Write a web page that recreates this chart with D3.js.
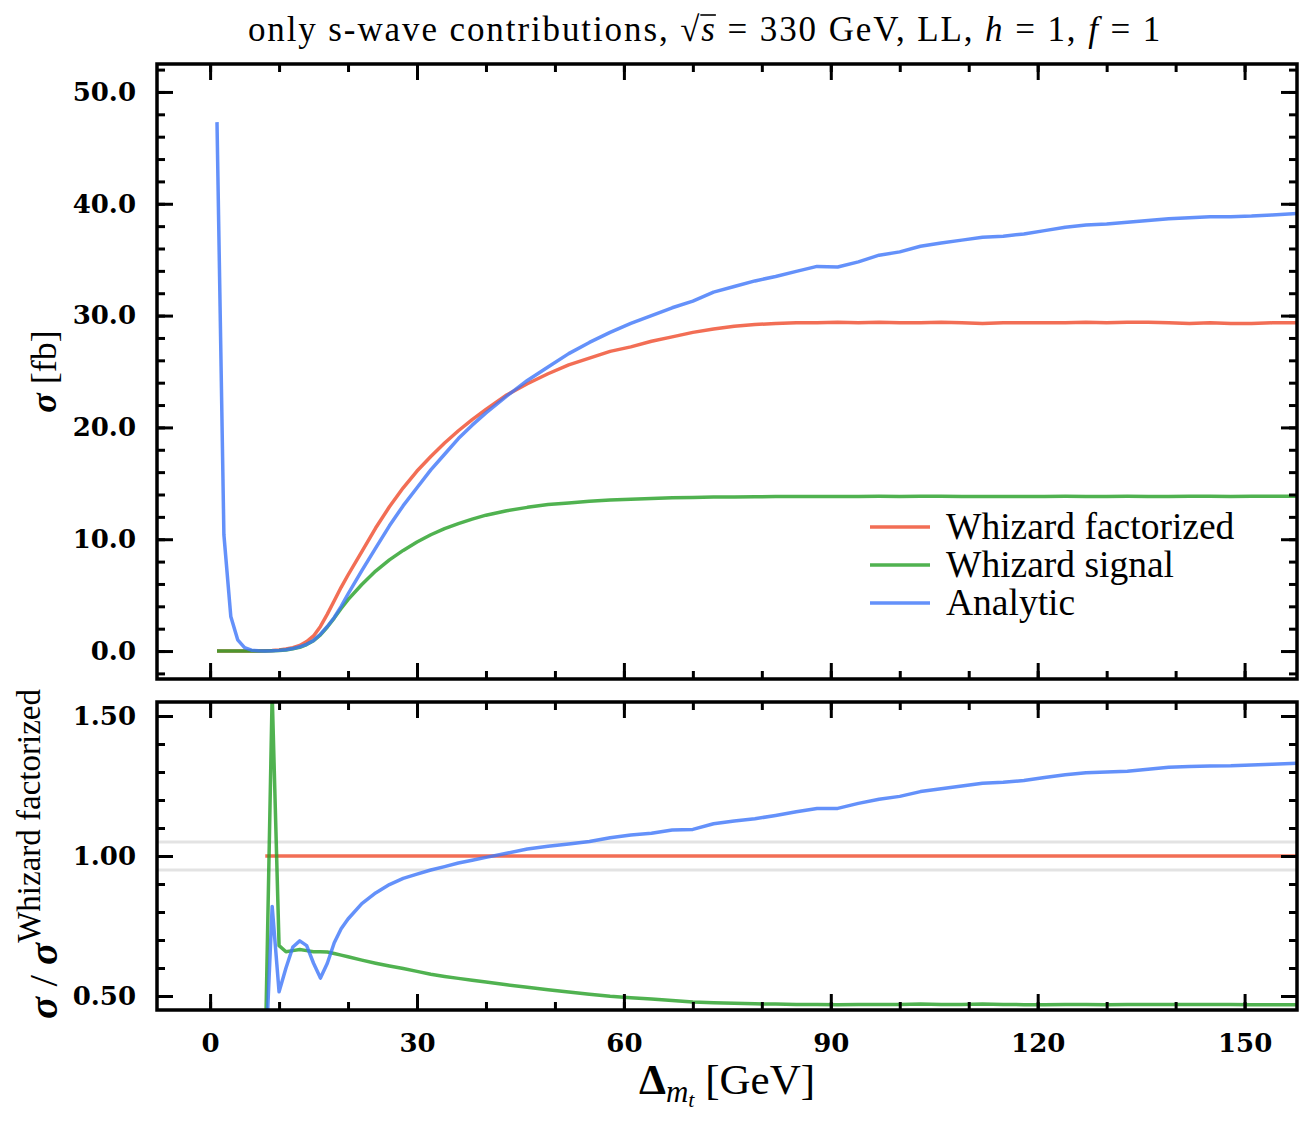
<!DOCTYPE html>
<html>
<head>
<meta charset="utf-8">
<script src="https://cdn.jsdelivr.net/npm/d3@7"></script>
<style>
  body { margin: 0; background: #fff; }
  svg { display: block; }
</style>
</head>
<body>
<div id="chart"></div>
<script>
// ---- dữ liệu ----
// trục x (GeV) cho panel trên
const xTop = [1,2,3,4,5,6,7,8,9,10,11,12,13,14,15,16,17,18,19,20,
  22,24,26,28,30,32,34,36,38,40,
  43,46,49,52,55,58,61,64,67,70,73,76,79,82,85,88,91,94,97,100,103,106,109,112,115,118,121,124,127,130,133,136,139,142,145,148,151,154,158];

const sigFactorized = [0,0,0,0,0,0,0,0.02,0.05,0.1,0.18,0.3,0.5,0.85,1.35,2.2,3.3,4.5,5.7,6.8,
  8.9,11.0,12.9,14.6,16.1,17.4,18.6,19.7,20.7,21.6,
  22.9,23.9,24.8,25.6,26.2,26.8,27.2,27.7,28.1,28.5,28.8,29.05,29.2,29.3,29.35,29.35,29.4,29.35,29.4,29.35,29.35,29.4,29.35,29.3,29.35,29.35,29.35,29.35,29.4,29.35,29.4,29.4,29.35,29.3,29.35,29.3,29.3,29.35,29.35];

const sigSignal = [0,0,0,0,0,0,0,0,0.02,0.05,0.1,0.2,0.33,0.58,0.92,1.45,2.15,2.95,3.8,4.6,
  5.95,7.15,8.15,9.0,9.75,10.4,10.95,11.4,11.8,12.15,
  12.55,12.85,13.1,13.25,13.4,13.5,13.58,13.65,13.7,13.74,13.77,13.78,13.8,13.82,13.82,13.83,13.82,13.83,13.84,13.83,13.85,13.84,13.83,13.82,13.82,13.83,13.83,13.84,13.83,13.82,13.84,13.83,13.83,13.84,13.84,13.83,13.84,13.84,13.85];

const sigAnalytic = [47.3,10.4,3.1,1.0,0.3,0.08,0.02,0.0,0.02,0.06,0.12,0.22,0.38,0.6,0.95,1.5,2.2,3.0,4.0,5.1,
  7.2,9.2,11.2,13.0,14.6,16.2,17.6,19.0,20.2,21.3,
  22.8,24.2,25.4,26.6,27.6,28.5,29.3,30.0,30.7,31.3,32.1,32.6,33.1,33.5,33.95,34.4,34.35,34.8,35.4,35.7,36.2,36.5,36.75,37.0,37.1,37.3,37.6,37.9,38.1,38.2,38.35,38.5,38.65,38.75,38.85,38.85,38.9,39.0,39.15];

// panel dưới: tỉ số so với Whizard factorized
const xRatio = [8,9,10,11,12,13,14,15,16,17,18,19,20,
  22,24,26,28,30,32,34,36,38,40,
  43,46,49,52,55,58,61,64,67,70,73,76,79,82,85,88,91,94,97,100,103,106,109,112,115,118,121,124,127,130,133,136,139,142,145,148,151,154,158];

const xRatioRef = [8, 158];
const ratioFactorized = [1.0, 1.0];

const ratioSignal = [0.3,1.58,0.68,0.658,0.662,0.666,0.662,0.658,0.658,0.657,0.652,0.646,0.64,
  0.628,0.617,0.607,0.598,0.588,0.578,0.57,0.563,0.556,0.55,
  0.54,0.531,0.522,0.514,0.506,0.499,0.494,0.489,0.484,0.479,0.476,0.474,0.472,0.471,0.47,0.47,0.469,0.47,0.47,0.47,0.471,0.47,0.47,0.471,0.47,0.469,0.469,0.47,0.47,0.469,0.47,0.47,0.47,0.47,0.47,0.47,0.469,0.469,0.469];

const ratioAnalytic = [0.25,0.82,0.515,0.6,0.675,0.697,0.68,0.617,0.564,0.617,0.69,0.74,0.775,
  0.83,0.868,0.898,0.92,0.935,0.95,0.962,0.975,0.985,0.995,
  1.01,1.025,1.035,1.043,1.052,1.065,1.075,1.081,1.093,1.095,1.115,1.125,1.133,1.145,1.158,1.17,1.17,1.188,1.203,1.213,1.23,1.24,1.25,1.26,1.263,1.27,1.28,1.29,1.297,1.3,1.303,1.31,1.317,1.32,1.321,1.322,1.325,1.328,1.332];

const bandLevels = [0.95, 1.05];

// nhãn trục
const xTickValues = [0, 30, 60, 90, 120, 150];
const yTopTickValues = [0, 10, 20, 30, 40, 50];
const yBotTickValues = [0.5, 1.0, 1.5];

const seriesNames = ["Whizard factorized", "Whizard signal", "Analytic"];
const seriesColors = ["#ef4a2a", "#249f24", "#3d76f9"];

// ---- kích thước ----
const W = 1312, H = 1128;
const left = 157, right = 1297;
const topPanel = { y0: 64, y1: 679 };
const botPanel = { y0: 702, y1: 1010 };
const serif = "'Liberation Serif', 'Times New Roman', serif";
const tickFont = "'DejaVu Serif', serif";

const svg = d3.select("#chart").append("svg")
  .attr("width", W).attr("height", H)
  .style("background", "#fff");

const x = d3.scaleLinear().domain([-7.7, 157.6]).range([left, right]);
const yTop = d3.scaleLinear().domain([-2.5, 52.5]).range([topPanel.y1, topPanel.y0]);
const yBot = d3.scaleLinear().domain([0.45, 1.55]).range([botPanel.y1, botPanel.y0]);

// vùng cắt cho từng panel
const defs = svg.append("defs");
defs.append("clipPath").attr("id", "clipTop").append("rect")
  .attr("x", left).attr("y", topPanel.y0).attr("width", right - left).attr("height", topPanel.y1 - topPanel.y0);
defs.append("clipPath").attr("id", "clipBot").append("rect")
  .attr("x", left).attr("y", botPanel.y0).attr("width", right - left).attr("height", botPanel.y1 - botPanel.y0);

const MAJOR = 16, MINOR = 8;

function styleAxis(g, withLabels) {
  g.select(".domain").remove();
  g.selectAll(".tick line").attr("stroke", "#000").attr("stroke-width", 3);
  g.selectAll(".tick text")
    .style("font-family", tickFont)
    .style("font-weight", "bold")
    .style("font-size", "26px")
    .attr("fill", "#000");
  if (!withLabels) g.selectAll(".tick text").remove();
}

function drawAxes(panel, yScale, yMajor, yMinor, yFmt, xLabels) {
  const xMinor = d3.range(0, 160, 10);
  // trục x: dưới và trên
  [["bottom", panel.y1], ["top", panel.y0]].forEach(([side, yy]) => {
    const mk = side === "bottom" ? d3.axisBottom : d3.axisTop;
    svg.append("g").attr("transform", `translate(0,${yy})`)
      .call(mk(x).tickValues(xMinor).tickSizeInner(-MINOR).tickSizeOuter(0).tickFormat(""))
      .call(g => styleAxis(g, false));
    svg.append("g").attr("transform", `translate(0,${yy})`)
      .call(mk(x).tickValues(xTickValues).tickSizeInner(-MAJOR).tickSizeOuter(0).tickPadding(24).tickFormat(d3.format("d")))
      .call(g => styleAxis(g, xLabels && side === "bottom"));
  });
  // trục y: trái và phải
  [["left", left], ["right", right]].forEach(([side, xx]) => {
    const mk = side === "left" ? d3.axisLeft : d3.axisRight;
    svg.append("g").attr("transform", `translate(${xx},0)`)
      .call(mk(yScale).tickValues(yMinor).tickSizeInner(-MINOR).tickSizeOuter(0).tickFormat(""))
      .call(g => styleAxis(g, false));
    svg.append("g").attr("transform", `translate(${xx},0)`)
      .call(mk(yScale).tickValues(yMajor).tickSizeInner(-MAJOR).tickSizeOuter(0).tickPadding(21).tickFormat(yFmt))
      .call(g => styleAxis(g, side === "left"));
  });
}

// đường tham chiếu xám ở panel dưới
svg.append("g").attr("clip-path", "url(#clipBot)")
  .selectAll("line").data(bandLevels).join("line")
  .attr("x1", left).attr("x2", right)
  .attr("y1", d => yBot(d)).attr("y2", d => yBot(d))
  .attr("stroke", "#e3e3e3").attr("stroke-width", 3);

function drawSeries(clip, yScale, xs, ys, color) {
  const line = d3.line().x(d => x(d[0])).y(d => yScale(d[1]));
  svg.append("path")
    .attr("clip-path", `url(#${clip})`)
    .datum(d3.zip(xs, ys))
    .attr("d", line)
    .attr("fill", "none")
    .attr("stroke", color)
    .attr("stroke-opacity", 0.8)
    .attr("stroke-width", 3.5)
    .attr("stroke-linejoin", "round");
}

// panel trên
drawSeries("clipTop", yTop, xTop, sigFactorized, seriesColors[0]);
drawSeries("clipTop", yTop, xTop, sigSignal, seriesColors[1]);
drawSeries("clipTop", yTop, xTop, sigAnalytic, seriesColors[2]);

// panel dưới
drawSeries("clipBot", yBot, xRatioRef, ratioFactorized, seriesColors[0]);
drawSeries("clipBot", yBot, xRatio, ratioSignal, seriesColors[1]);
drawSeries("clipBot", yBot, xRatio, ratioAnalytic, seriesColors[2]);

drawAxes(topPanel, yTop, yTopTickValues, d3.range(-2, 53, 2), d3.format(".1f"), false);
drawAxes(botPanel, yBot, yBotTickValues, d3.range(0.5, 1.55, 0.1), d3.format(".2f"), true);

// khung
[topPanel, botPanel].forEach(p => {
  svg.append("rect")
    .attr("x", left).attr("y", p.y0)
    .attr("width", right - left).attr("height", p.y1 - p.y0)
    .attr("fill", "none").attr("stroke", "#000").attr("stroke-width", 3.5);
});

// chú giải
const legend = svg.append("g").attr("transform", "translate(870,527)");
seriesNames.forEach((name, i) => {
  const row = legend.append("g").attr("transform", `translate(0,${i * 38})`);
  row.append("line").attr("x1", 0).attr("x2", 60).attr("y1", 0).attr("y2", 0)
    .attr("stroke", seriesColors[i]).attr("stroke-opacity", 0.8).attr("stroke-width", 3.5);
  row.append("text").attr("x", 76).attr("y", 0).attr("dy", "0.33em")
    .style("font-family", serif).style("font-size", "37.5px").text(name);
});

// tiêu đề
const title = svg.append("text")
  .attr("x", 705).attr("y", 41)
  .attr("text-anchor", "middle")
  .style("font-family", serif).style("font-size", "35px")
  .style("letter-spacing", "1.9px");
title.append("tspan").text("only s-wave contributions, ");
title.append("tspan").text("\u221A");
const sq = title.append("tspan").style("font-style", "italic").text("s");
title.append("tspan").text(" = 330 GeV, LL, ");
title.append("tspan").style("font-style", "italic").text("h");
title.append("tspan").text(" = 1, ");
title.append("tspan").style("font-style", "italic").text("f");
title.append("tspan").text(" = 1");
const sb = sq.node().getBBox();
svg.append("line")
  .attr("x1", sb.x - 1).attr("x2", sb.x + sb.width - 1)
  .attr("y1", sb.y + 5).attr("y2", sb.y + 5)
  .attr("stroke", "#000").attr("stroke-width", 1.6);

// nhãn trục x
const xl = svg.append("text")
  .attr("x", 727).attr("y", 1094)
  .attr("text-anchor", "middle")
  .style("font-family", serif).style("font-size", "43px");
xl.append("tspan").style("font-weight", "bold").text("\u0394");
xl.append("tspan").style("font-style", "italic").style("font-size", "31px").attr("dy", 8).text("m");
xl.append("tspan").style("font-style", "italic").style("font-size", "22px").attr("dy", 5).text("t");
xl.append("tspan").attr("dy", -13).text(" [GeV]");

// nhãn trục y (panel trên)
const yl = svg.append("text")
  .attr("transform", `translate(56,${(topPanel.y0 + topPanel.y1) / 2}) rotate(-90)`)
  .attr("text-anchor", "middle")
  .style("font-family", serif).style("font-size", "36px");
yl.append("tspan").style("font-weight", "bold").style("font-style", "italic").text("\u03C3");
yl.append("tspan").text(" [fb]");

// nhãn trục y (panel dưới)
const yl2 = svg.append("text")
  .attr("transform", `translate(57,${(botPanel.y0 + botPanel.y1) / 2 - 2}) rotate(-90)`)
  .attr("text-anchor", "middle")
  .style("font-family", serif).style("font-size", "41px");
yl2.append("tspan").style("font-weight", "bold").style("font-style", "italic").text("\u03C3");
yl2.append("tspan").text(" / ");
yl2.append("tspan").style("font-weight", "bold").style("font-style", "italic").text("\u03C3");
yl2.append("tspan").attr("dy", -17).style("font-size", "33px").text("Whizard factorized");
</script>
</body>
</html>
